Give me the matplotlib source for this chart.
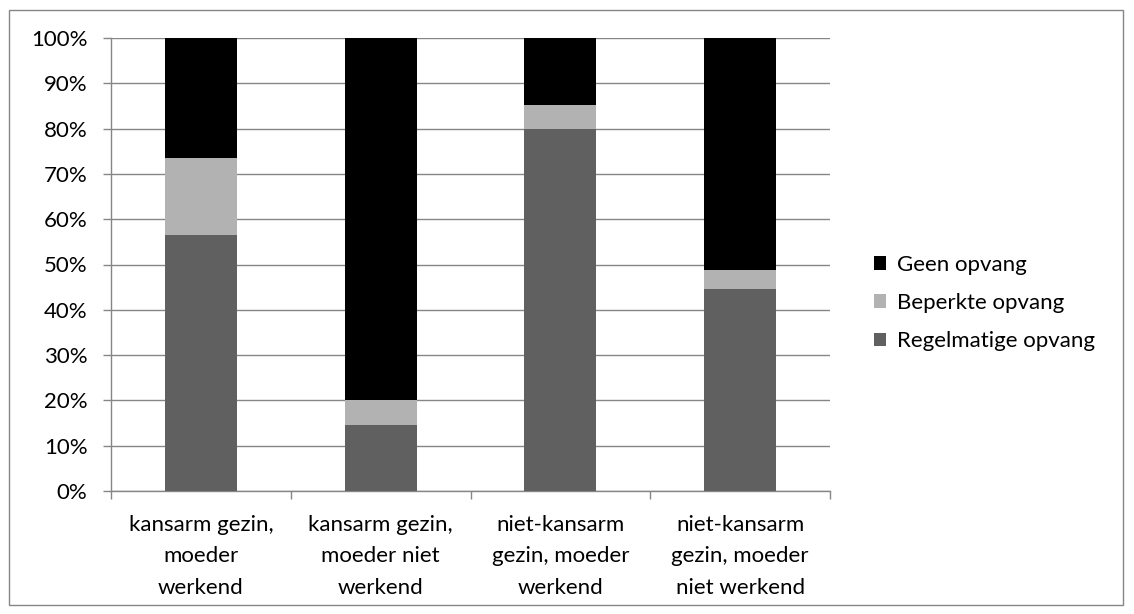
import matplotlib
matplotlib.use("Agg")
import matplotlib.pyplot as plt
import numpy as np

plt.rcParams['font.family'] = ['Lato', 'DejaVu Sans']

categories = ["kansarm gezin,\nmoeder\nwerkend",
              "kansarm gezin,\nmoeder niet\nwerkend",
              "niet-kansarm\ngezin, moeder\nwerkend",
              "niet-kansarm\ngezin, moeder\nniet werkend"]
regelmatig = [56.5, 14.6, 79.9, 44.6]
beperkt = [17.0, 5.5, 5.4, 4.1]
geen = [26.5, 79.9, 14.7, 51.3]
yticks = [0, 10, 20, 30, 40, 50, 60, 70, 80, 90, 100]

W, H = 1134, 614
fs = 16
fig = plt.figure(figsize=(W / 100, H / 100), dpi=100)

# outer chart border
fig.patches.append(plt.Rectangle((9 / W, 9 / H), (1123 - 9) / W, (604 - 9) / H,
                                 transform=fig.transFigure, fill=False,
                                 edgecolor='#868686', linewidth=1.0))

ax = fig.add_axes([111 / W, (H - 491) / H, (830 - 111) / W, (491 - 38) / H])
x = np.arange(len(categories))
bw = 0.4
b1 = ax.bar(x, regelmatig, bw, color='#606060', label='Regelmatige opvang', zorder=3)
b2 = ax.bar(x, beperkt, bw, bottom=regelmatig, color='#b2b2b2', label='Beperkte opvang', zorder=3)
bottom3 = [a + b for a, b in zip(regelmatig, beperkt)]
b3 = ax.bar(x, geen, bw, bottom=bottom3, color='#000000', label='Geen opvang', zorder=3)

ax.set_xlim(-0.5, 3.5)
ax.set_ylim(0, 100)
ax.set_yticks(yticks)
ax.set_yticklabels([f"{v}%" for v in yticks])
ax.yaxis.grid(True, color='#868686', linewidth=1.0, zorder=0)

ax.set_xticks(np.arange(-0.5, 4, 1))
ax.set_xticklabels([])
ax.set_xticks(x, minor=True)
ax.set_xticklabels(categories, minor=True, fontsize=fs, linespacing=1.72)
ax.tick_params(axis='x', which='minor', length=0, pad=17)
ax.tick_params(axis='x', which='major', length=6, color='#868686', width=1.0)
ax.tick_params(axis='y', length=6, color='#868686', width=1.0, pad=11, labelsize=fs)

for s in ['top', 'right']:
    ax.spines[s].set_visible(False)
for s in ['left', 'bottom']:
    ax.spines[s].set_color('#868686')
    ax.spines[s].set_linewidth(1.0)

leg = fig.legend(handles=[b3, b2, b1], loc='center left',
                 bbox_to_anchor=(854 / W, (H - 303) / H),
                 frameon=False, fontsize=fs, handlelength=0.55, handleheight=0.55,
                 handletextpad=0.5, labelspacing=0.82)

fig.savefig("out.png", dpi=100)
